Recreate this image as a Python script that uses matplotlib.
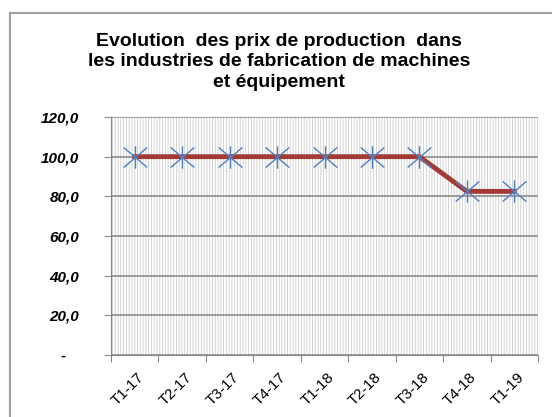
import numpy as np
import matplotlib.pyplot as plt
from matplotlib.patches import Rectangle
from matplotlib.path import Path

plt.rcParams['font.family'] = ['Liberation Sans', 'DejaVu Sans']
plt.rcParams['hatch.color'] = '#cdcdcd'
plt.rcParams['hatch.linewidth'] = 0.6

trimestres = ['T1-17', 'T2-17', 'T3-17', 'T4-17', 'T1-18', 'T2-18', 'T3-18', 'T4-18', 'T1-19']
indice = [100.0, 100.0, 100.0, 100.0, 100.0, 100.0, 100.0, 82.5, 82.5]
yticks = [0, 20, 40, 60, 80, 100, 120]
ylabels = ['-   ', '20,0', '40,0', '60,0', '80,0', '100,0', '120,0']

# asterisk marker : vertical bar + X
etoile = Path([(0, -0.95), (0, 0.95), (-1, -0.85), (1, 0.85), (-1, 0.85), (1, -0.85)],
              [Path.MOVETO, Path.LINETO, Path.MOVETO, Path.LINETO, Path.MOVETO, Path.LINETO])

fig = plt.figure(figsize=(5.52, 4.17), dpi=100)
fig.patches.append(Rectangle((10 / 552, -0.1), 1.1, 1 - 13 / 417 + 0.1, transform=fig.transFigure,
                             fill=False, edgecolor='#a0a0a0', linewidth=1.5))

ax = fig.add_axes([111 / 552, 1 - 355 / 417, 427 / 552, 238 / 417])
ax.patch.set_facecolor('white')
ax.patch.set_hatch('||||||')
ax.patch.set_edgecolor('#cdcdcd')

x = np.arange(len(trimestres)) + 0.5
ax.plot(x, indice, color='#a33a36', linewidth=3.5, zorder=3)
ax.plot(x, indice, linestyle='none', marker=etoile, markersize=17, markerfacecolor='none',
        markeredgecolor='#4f81bd', markeredgewidth=1.0, zorder=4)

ax.set_xlim(0, len(trimestres))
ax.set_ylim(0, 120)
ax.set_yticks(yticks)
ax.set_yticklabels(ylabels, fontsize=11, fontweight='bold', fontstyle='italic')
ax.set_xticks(np.arange(len(trimestres) + 1))
ax.set_xticklabels([])
ax.set_xticks(x + 0.05, minor=True)
ax.set_xticklabels(trimestres, minor=True, rotation=45, ha='right', va='top',
                   fontsize=11, rotation_mode='anchor')
ax.tick_params(axis='x', which='minor', length=0, pad=11)
ax.tick_params(axis='x', which='major', length=5, color='#888888')
ax.tick_params(axis='y', length=5, color='#888888', pad=18)
ax.grid(axis='y', color='#8c8c8c', linewidth=1.2)
ax.set_axisbelow(True)
for s in ['top', 'right']:
    ax.spines[s].set_visible(False)
ax.spines['left'].set_color('#888888')
ax.spines['bottom'].set_color('#888888')

fig.text(0.505, 1 - 62 / 417, 'Evolution  des prix de production  dans\nles industries de fabrication de machines\net équipement',
         ha='center', va='center', fontsize=14, fontweight='bold', linespacing=1.28)

fig.savefig('out.png', dpi=100)
